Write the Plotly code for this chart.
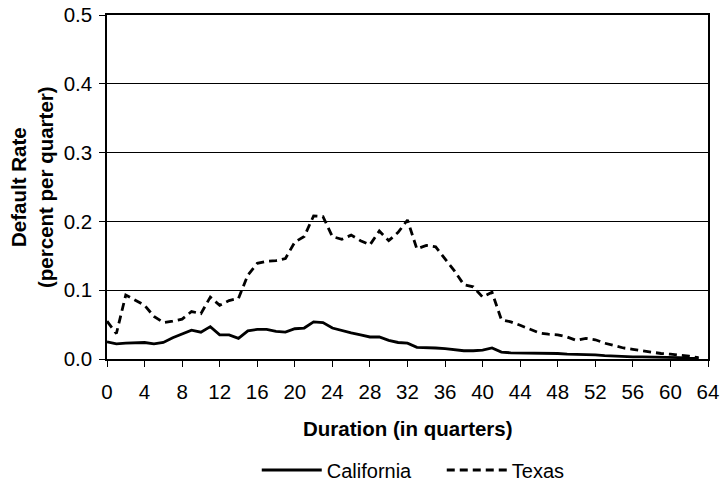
import plotly.graph_objects as go

quarters = list(range(0, 64))
california = [0.025, 0.022, 0.023, 0.024, 0.024, 0.022, 0.024, 0.031, 0.036, 0.042,
              0.039, 0.047, 0.035, 0.035, 0.030, 0.041, 0.043, 0.043, 0.040, 0.039,
              0.044, 0.045, 0.054, 0.053, 0.045, 0.041, 0.038, 0.035, 0.032, 0.032,
              0.027, 0.024, 0.023, 0.017, 0.017, 0.016, 0.015, 0.013, 0.012, 0.012,
              0.013, 0.016, 0.010, 0.009, 0.009, 0.009, 0.008, 0.008, 0.008, 0.007,
              0.007, 0.006, 0.006, 0.005, 0.004, 0.004, 0.003, 0.003, 0.003, 0.002,
              0.002, 0.002, 0.001, 0.001]
texas = [0.055, 0.037, 0.093, 0.085, 0.078, 0.062, 0.053, 0.055, 0.058, 0.069,
         0.066, 0.090, 0.078, 0.085, 0.088, 0.122, 0.139, 0.142, 0.143, 0.146,
         0.170, 0.178, 0.208, 0.207, 0.178, 0.174, 0.180, 0.172, 0.166, 0.186,
         0.172, 0.184, 0.202, 0.160, 0.165, 0.163, 0.145, 0.128, 0.108, 0.105,
         0.090, 0.097, 0.057, 0.054, 0.049, 0.043, 0.038, 0.036, 0.035, 0.032,
         0.027, 0.030, 0.028, 0.023, 0.019, 0.016, 0.014, 0.012, 0.009, 0.008,
         0.007, 0.006, 0.004, 0.002]
x_ticks = list(range(0, 65, 4))
y_ticks = [0.0, 0.1, 0.2, 0.3, 0.4, 0.5]
y_tick_labels = ["0.0", "0.1", "0.2", "0.3", "0.4", "0.5"]

FONT = "Liberation Sans, Arial, sans-serif"

fig = go.Figure()
fig.add_trace(go.Scatter(x=quarters, y=california, mode="lines", name="California",
                         line=dict(color="black", width=2.8)))
fig.add_trace(go.Scatter(x=quarters, y=texas, mode="lines", name="Texas",
                         line=dict(color="black", width=2.8, dash="8px,5px")))

fig.update_layout(
    width=722, height=483,
    margin=dict(l=107, r=14, t=15, b=124, autoexpand=False),
    paper_bgcolor="white", plot_bgcolor="white",
    font=dict(family=FONT, size=20, color="black"),
    showlegend=True,
    legend=dict(orientation="h", x=0.557, xanchor="center", y=-0.3227, yanchor="middle",
                font=dict(size=20), entrywidth=110, entrywidthmode="pixels",
                tracegroupgap=0, itemwidth=60),
    xaxis=dict(range=[0, 64], tickvals=x_ticks, ticks="outside", ticklen=6,
               tickcolor="black", showline=True, linecolor="black", linewidth=1.5,
               mirror=True, showgrid=False, zeroline=False, automargin=False,
               ticklabelstandoff=8, tickfont=dict(size=20.5)),
    yaxis=dict(range=[0, 0.5], tickvals=y_ticks, ticktext=y_tick_labels, ticks="outside",
               ticklen=6, tickcolor="black", showline=True, linecolor="black", linewidth=1.5,
               mirror=True, showgrid=True, gridcolor="black", gridwidth=1.2, zeroline=False,
               automargin=False, ticklabelstandoff=3, tickfont=dict(size=20.5)),
    annotations=[
        dict(text="<b>Duration (in quarters)</b>", xref="paper", yref="paper",
             x=0.5, y=-0.2006, xanchor="center", yanchor="middle", showarrow=False,
             font=dict(size=20.5)),
        dict(text="<b>Default Rate<br>(percent per quarter)</b>", xref="paper", yref="paper",
             x=-0.1248, y=0.5, xanchor="center", yanchor="middle", showarrow=False,
             textangle=-90, font=dict(size=20.5)),
    ],
)

fig.write_html("out.html", config={"displayModeBar": False},
               post_script="document.body.style.margin='0';document.body.style.overflow='hidden';")
